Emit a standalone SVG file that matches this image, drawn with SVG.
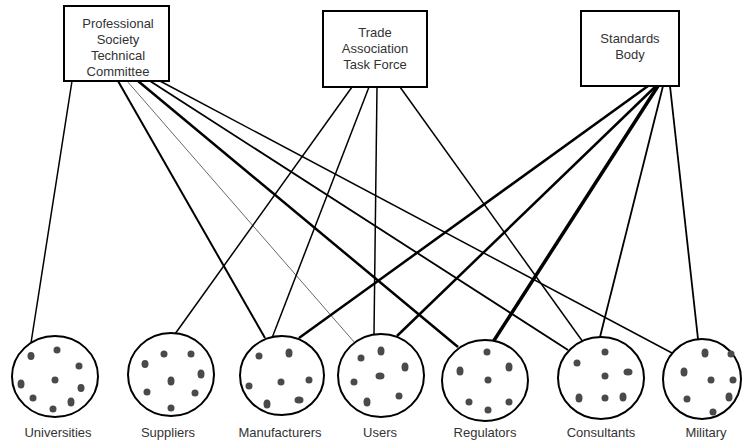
<svg xmlns="http://www.w3.org/2000/svg" width="743" height="446" viewBox="0 0 743 446">
<style>
.box{fill:#fff;stroke:#000;stroke-width:2}
.grp{fill:#fff;stroke:#000;stroke-width:2}
.dot{fill:#4a4a4a}
.t{font-family:"Liberation Sans",Arial,sans-serif;font-size:13px;fill:#333;text-anchor:middle}
.c{stroke:#000;fill:none;stroke-linecap:butt}
</style>
<rect width="743" height="446" fill="#fff"/>
<g id="connectors">
<line class="c" x1="72" y1="81" x2="31" y2="343" stroke-width="1.5"/>
<line class="c" x1="118" y1="81" x2="265" y2="338" stroke-width="2"/>
<line class="c" x1="127" y1="81" x2="355" y2="343" stroke-width="0.6" stroke="#777"/>
<line class="c" x1="138" y1="81" x2="458" y2="347" stroke-width="2.5"/>
<line class="c" x1="150" y1="81" x2="568" y2="350" stroke-width="1.8"/>
<line class="c" x1="160" y1="81" x2="672" y2="353" stroke-width="1.5"/>
<line class="c" x1="352" y1="87" x2="175" y2="334" stroke-width="1.5"/>
<line class="c" x1="369" y1="87" x2="272" y2="338" stroke-width="1.5"/>
<line class="c" x1="377" y1="87" x2="374" y2="334" stroke-width="1.5"/>
<line class="c" x1="400" y1="87" x2="583" y2="342" stroke-width="1.5"/>
<line class="c" x1="648" y1="86" x2="299" y2="338" stroke-width="2.5"/>
<line class="c" x1="656" y1="86" x2="397" y2="336" stroke-width="2.5"/>
<line class="c" x1="658" y1="86" x2="493" y2="342" stroke-width="3.5"/>
<line class="c" x1="663" y1="86" x2="600" y2="337" stroke-width="1.8"/>
<line class="c" x1="670" y1="86" x2="698" y2="339" stroke-width="1.8"/>
</g>
<g id="professional-society">
<rect class="box" x="64" y="6" width="105" height="75"/>
<text class="t" x="118" y="28">Professional</text>
<text class="t" x="118" y="44">Society</text>
<text class="t" x="118" y="60">Technical</text>
<text class="t" x="118" y="76">Committee</text>
</g>
<g id="trade-association">
<rect class="box" x="323" y="11" width="104" height="76"/>
<text class="t" x="375" y="37">Trade</text>
<text class="t" x="375" y="53">Association</text>
<text class="t" x="375" y="69">Task Force</text>
</g>
<g id="standards-body">
<rect class="box" x="581" y="11" width="98" height="75"/>
<text class="t" x="630" y="43">Standards</text>
<text class="t" x="630" y="59">Body</text>
</g>
<g id="universities">
<ellipse class="grp" cx="55" cy="376.5" rx="43" ry="40.5"/>
<ellipse class="dot" cx="31" cy="356" rx="3.5" ry="4"/>
<ellipse class="dot" cx="57" cy="350" rx="3.5" ry="3.5"/>
<ellipse class="dot" cx="79" cy="366" rx="3.5" ry="3.5"/>
<ellipse class="dot" cx="55" cy="380" rx="3.5" ry="3.5"/>
<ellipse class="dot" cx="21" cy="384" rx="3.5" ry="4.5"/>
<ellipse class="dot" cx="81" cy="388" rx="3.5" ry="4"/>
<ellipse class="dot" cx="33" cy="398" rx="3.5" ry="3.5"/>
<ellipse class="dot" cx="71" cy="402" rx="3.5" ry="4.5"/>
<ellipse class="dot" cx="53" cy="409" rx="3.5" ry="3.5"/>
<text class="t" x="58" y="437">Universities</text>
</g>
<g id="suppliers">
<ellipse class="grp" cx="171" cy="374.5" rx="43" ry="41.5"/>
<ellipse class="dot" cx="164" cy="354" rx="3.5" ry="3.5"/>
<ellipse class="dot" cx="191" cy="354" rx="3.5" ry="3.5"/>
<ellipse class="dot" cx="145" cy="364" rx="3.5" ry="4"/>
<ellipse class="dot" cx="201" cy="374" rx="3.5" ry="4.5"/>
<ellipse class="dot" cx="171" cy="381" rx="3.5" ry="4.5"/>
<ellipse class="dot" cx="147" cy="392" rx="3.5" ry="3.5"/>
<ellipse class="dot" cx="195" cy="393" rx="3.5" ry="3.5"/>
<ellipse class="dot" cx="171" cy="408" rx="3.5" ry="3.5"/>
<text class="t" x="168" y="437">Suppliers</text>
</g>
<g id="manufacturers">
<ellipse class="grp" cx="282" cy="375.5" rx="42" ry="39.5"/>
<ellipse class="dot" cx="259" cy="356" rx="3.5" ry="3.5"/>
<ellipse class="dot" cx="289" cy="353" rx="3.5" ry="4.5"/>
<ellipse class="dot" cx="249" cy="386" rx="3.5" ry="3.5"/>
<ellipse class="dot" cx="281" cy="382" rx="3.5" ry="3.5"/>
<ellipse class="dot" cx="309" cy="380" rx="3.5" ry="3.5"/>
<ellipse class="dot" cx="267" cy="404" rx="3.5" ry="4.5"/>
<ellipse class="dot" cx="299" cy="400" rx="4.5" ry="3.5"/>
<text class="t" x="280" y="437">Manufacturers</text>
</g>
<g id="users">
<ellipse class="grp" cx="381" cy="375.5" rx="43" ry="41.5"/>
<ellipse class="dot" cx="381" cy="351" rx="3.5" ry="4.5"/>
<ellipse class="dot" cx="361" cy="358" rx="3.5" ry="3.5"/>
<ellipse class="dot" cx="405" cy="367" rx="3.5" ry="4.5"/>
<ellipse class="dot" cx="380" cy="376" rx="4.5" ry="3.5"/>
<ellipse class="dot" cx="354" cy="382" rx="3.5" ry="3.5"/>
<ellipse class="dot" cx="399" cy="396" rx="3.5" ry="3.5"/>
<ellipse class="dot" cx="367" cy="402" rx="3.5" ry="4.5"/>
<text class="t" x="380" y="437">Users</text>
</g>
<g id="regulators">
<ellipse class="grp" cx="485" cy="380.5" rx="43" ry="40.5"/>
<ellipse class="dot" cx="487" cy="352" rx="3.5" ry="3.5"/>
<ellipse class="dot" cx="509" cy="367" rx="3.5" ry="4.5"/>
<ellipse class="dot" cx="460" cy="371" rx="3.5" ry="4.5"/>
<ellipse class="dot" cx="488" cy="380" rx="3.5" ry="3.5"/>
<ellipse class="dot" cx="469" cy="402" rx="3.5" ry="3.5"/>
<ellipse class="dot" cx="509" cy="402" rx="3.5" ry="3.5"/>
<ellipse class="dot" cx="488" cy="410" rx="3.5" ry="3.5"/>
<text class="t" x="485" y="437">Regulators</text>
</g>
<g id="consultants">
<ellipse class="grp" cx="601" cy="378" rx="43" ry="41"/>
<ellipse class="dot" cx="605" cy="352" rx="3.5" ry="3.5"/>
<ellipse class="dot" cx="577" cy="363" rx="3.5" ry="3.5"/>
<ellipse class="dot" cx="628" cy="372" rx="4.5" ry="3.5"/>
<ellipse class="dot" cx="605" cy="376" rx="3.5" ry="3.5"/>
<ellipse class="dot" cx="579" cy="398" rx="3.5" ry="4.5"/>
<ellipse class="dot" cx="605" cy="398" rx="3.5" ry="3.5"/>
<ellipse class="dot" cx="623" cy="397" rx="3.5" ry="4.5"/>
<text class="t" x="601" y="437">Consultants</text>
</g>
<g id="military">
<ellipse class="grp" cx="702" cy="379" rx="39" ry="40"/>
<ellipse class="dot" cx="705" cy="353" rx="3.5" ry="4.5"/>
<ellipse class="dot" cx="731" cy="354" rx="3.5" ry="3.5"/>
<ellipse class="dot" cx="684" cy="372" rx="3.5" ry="4.5"/>
<ellipse class="dot" cx="711" cy="380" rx="3.5" ry="3.5"/>
<ellipse class="dot" cx="733" cy="380" rx="3.5" ry="3.5"/>
<ellipse class="dot" cx="687" cy="399" rx="3.5" ry="3.5"/>
<ellipse class="dot" cx="729" cy="397" rx="3.5" ry="4.5"/>
<ellipse class="dot" cx="713" cy="412" rx="3.5" ry="3.5"/>
<text class="t" x="706" y="437">Military</text>
</g>
</svg>
